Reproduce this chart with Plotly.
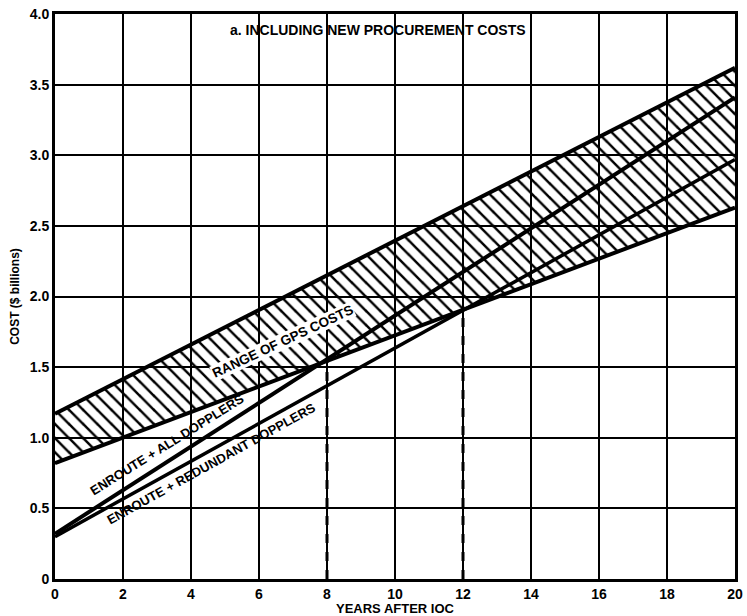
import plotly.graph_objects as go

# Data
years = [0, 20]
gps_upper = [1.17, 3.62]
gps_lower = [0.82, 2.63]
enroute_all = [0.32, 3.41]
enroute_redundant = [0.30, 2.97]

# dashed marker lines (x, top value)
dash_x = [8, 12]
dash_top = [1.55, 1.93]

x_ticks = [0, 2, 4, 6, 8, 10, 12, 14, 16, 18, 20]
y_ticks = [0, 0.5, 1.0, 1.5, 2.0, 2.5, 3.0, 3.5, 4.0]
y_ticktext = ["0", "0.5", "1.0", "1.5", "2.0", "2.5", "3.0", "3.5", "4.0"]

FONT = "Liberation Sans"

fig = go.Figure()

# GPS range band (hatched)
fig.add_trace(go.Scatter(x=years, y=gps_lower, mode="lines",
                         line=dict(color="black", width=4), showlegend=False))
fig.add_trace(go.Scatter(x=years, y=gps_upper, mode="lines",
                         line=dict(color="black", width=4), fill="tonexty",
                         fillcolor="rgba(0,0,0,0)",
                         fillpattern=dict(shape="\\", size=10, solidity=0.25,
                                          fgcolor="black", fgopacity=1,
                                          bgcolor="rgba(0,0,0,0)"),
                         showlegend=False))

# Enroute lines
fig.add_trace(go.Scatter(x=years, y=enroute_all, mode="lines",
                         line=dict(color="black", width=4), showlegend=False))
fig.add_trace(go.Scatter(x=years, y=enroute_redundant, mode="lines",
                         line=dict(color="black", width=3.5), showlegend=False))

# Dashed verticals
for xv, top in zip(dash_x, dash_top):
    fig.add_trace(go.Scatter(x=[xv, xv], y=[0, top], mode="lines",
                             line=dict(color="black", width=3, dash="dash"),
                             showlegend=False))

# Annotations
fig.add_annotation(x=9.5, y=3.89, text="<b>a. INCLUDING NEW PROCUREMENT COSTS</b>",
                   showarrow=False, font=dict(family=FONT, size=14, color="black"))
fig.add_annotation(x=6.7, y=1.68, text="<b>RANGE OF GPS COSTS</b>", textangle=-25,
                   bgcolor="white", borderpad=0,
                   showarrow=False, font=dict(family=FONT, size=13.5, color="black"))
fig.add_annotation(x=3.3, y=0.95, text="<b>ENROUTE + ALL DOPPLERS</b>", textangle=-32,
                   showarrow=False, font=dict(family=FONT, size=13, color="black"))
fig.add_annotation(x=4.6, y=0.82, text="<b>ENROUTE + REDUNDANT DOPPLERS</b>", textangle=-29,
                   showarrow=False, font=dict(family=FONT, size=13, color="black"))

fig.update_layout(
    width=747, height=616,
    margin=dict(l=55, r=4, t=14, b=37),
    plot_bgcolor="white", paper_bgcolor="white",
    font=dict(family=FONT, size=14, color="black"),
    xaxis=dict(range=[0, 20], tickvals=x_ticks, ticktext=[f"<b>{v}</b>" for v in x_ticks],
               ticklabeloverflow="allow",
               showgrid=True, gridcolor="black", gridwidth=2,
               showline=True, linecolor="black", linewidth=3, mirror=True,
               zeroline=False, ticks="", ticklen=0,
               title=dict(text="<b>YEARS AFTER IOC</b>", font=dict(size=13), standoff=0)),
    yaxis=dict(range=[0, 4.0], tickvals=y_ticks, ticktext=[f"<b>{t}</b>" for t in y_ticktext],
               ticklabeloverflow="allow",
               showgrid=True, gridcolor="black", gridwidth=2,
               showline=True, linecolor="black", linewidth=3, mirror=True,
               zeroline=False, ticks="", ticklen=0,
               title=dict(text="<b>COST ($ billions)</b>", font=dict(size=12), standoff=8)),
)

fig.write_html("out.html")
